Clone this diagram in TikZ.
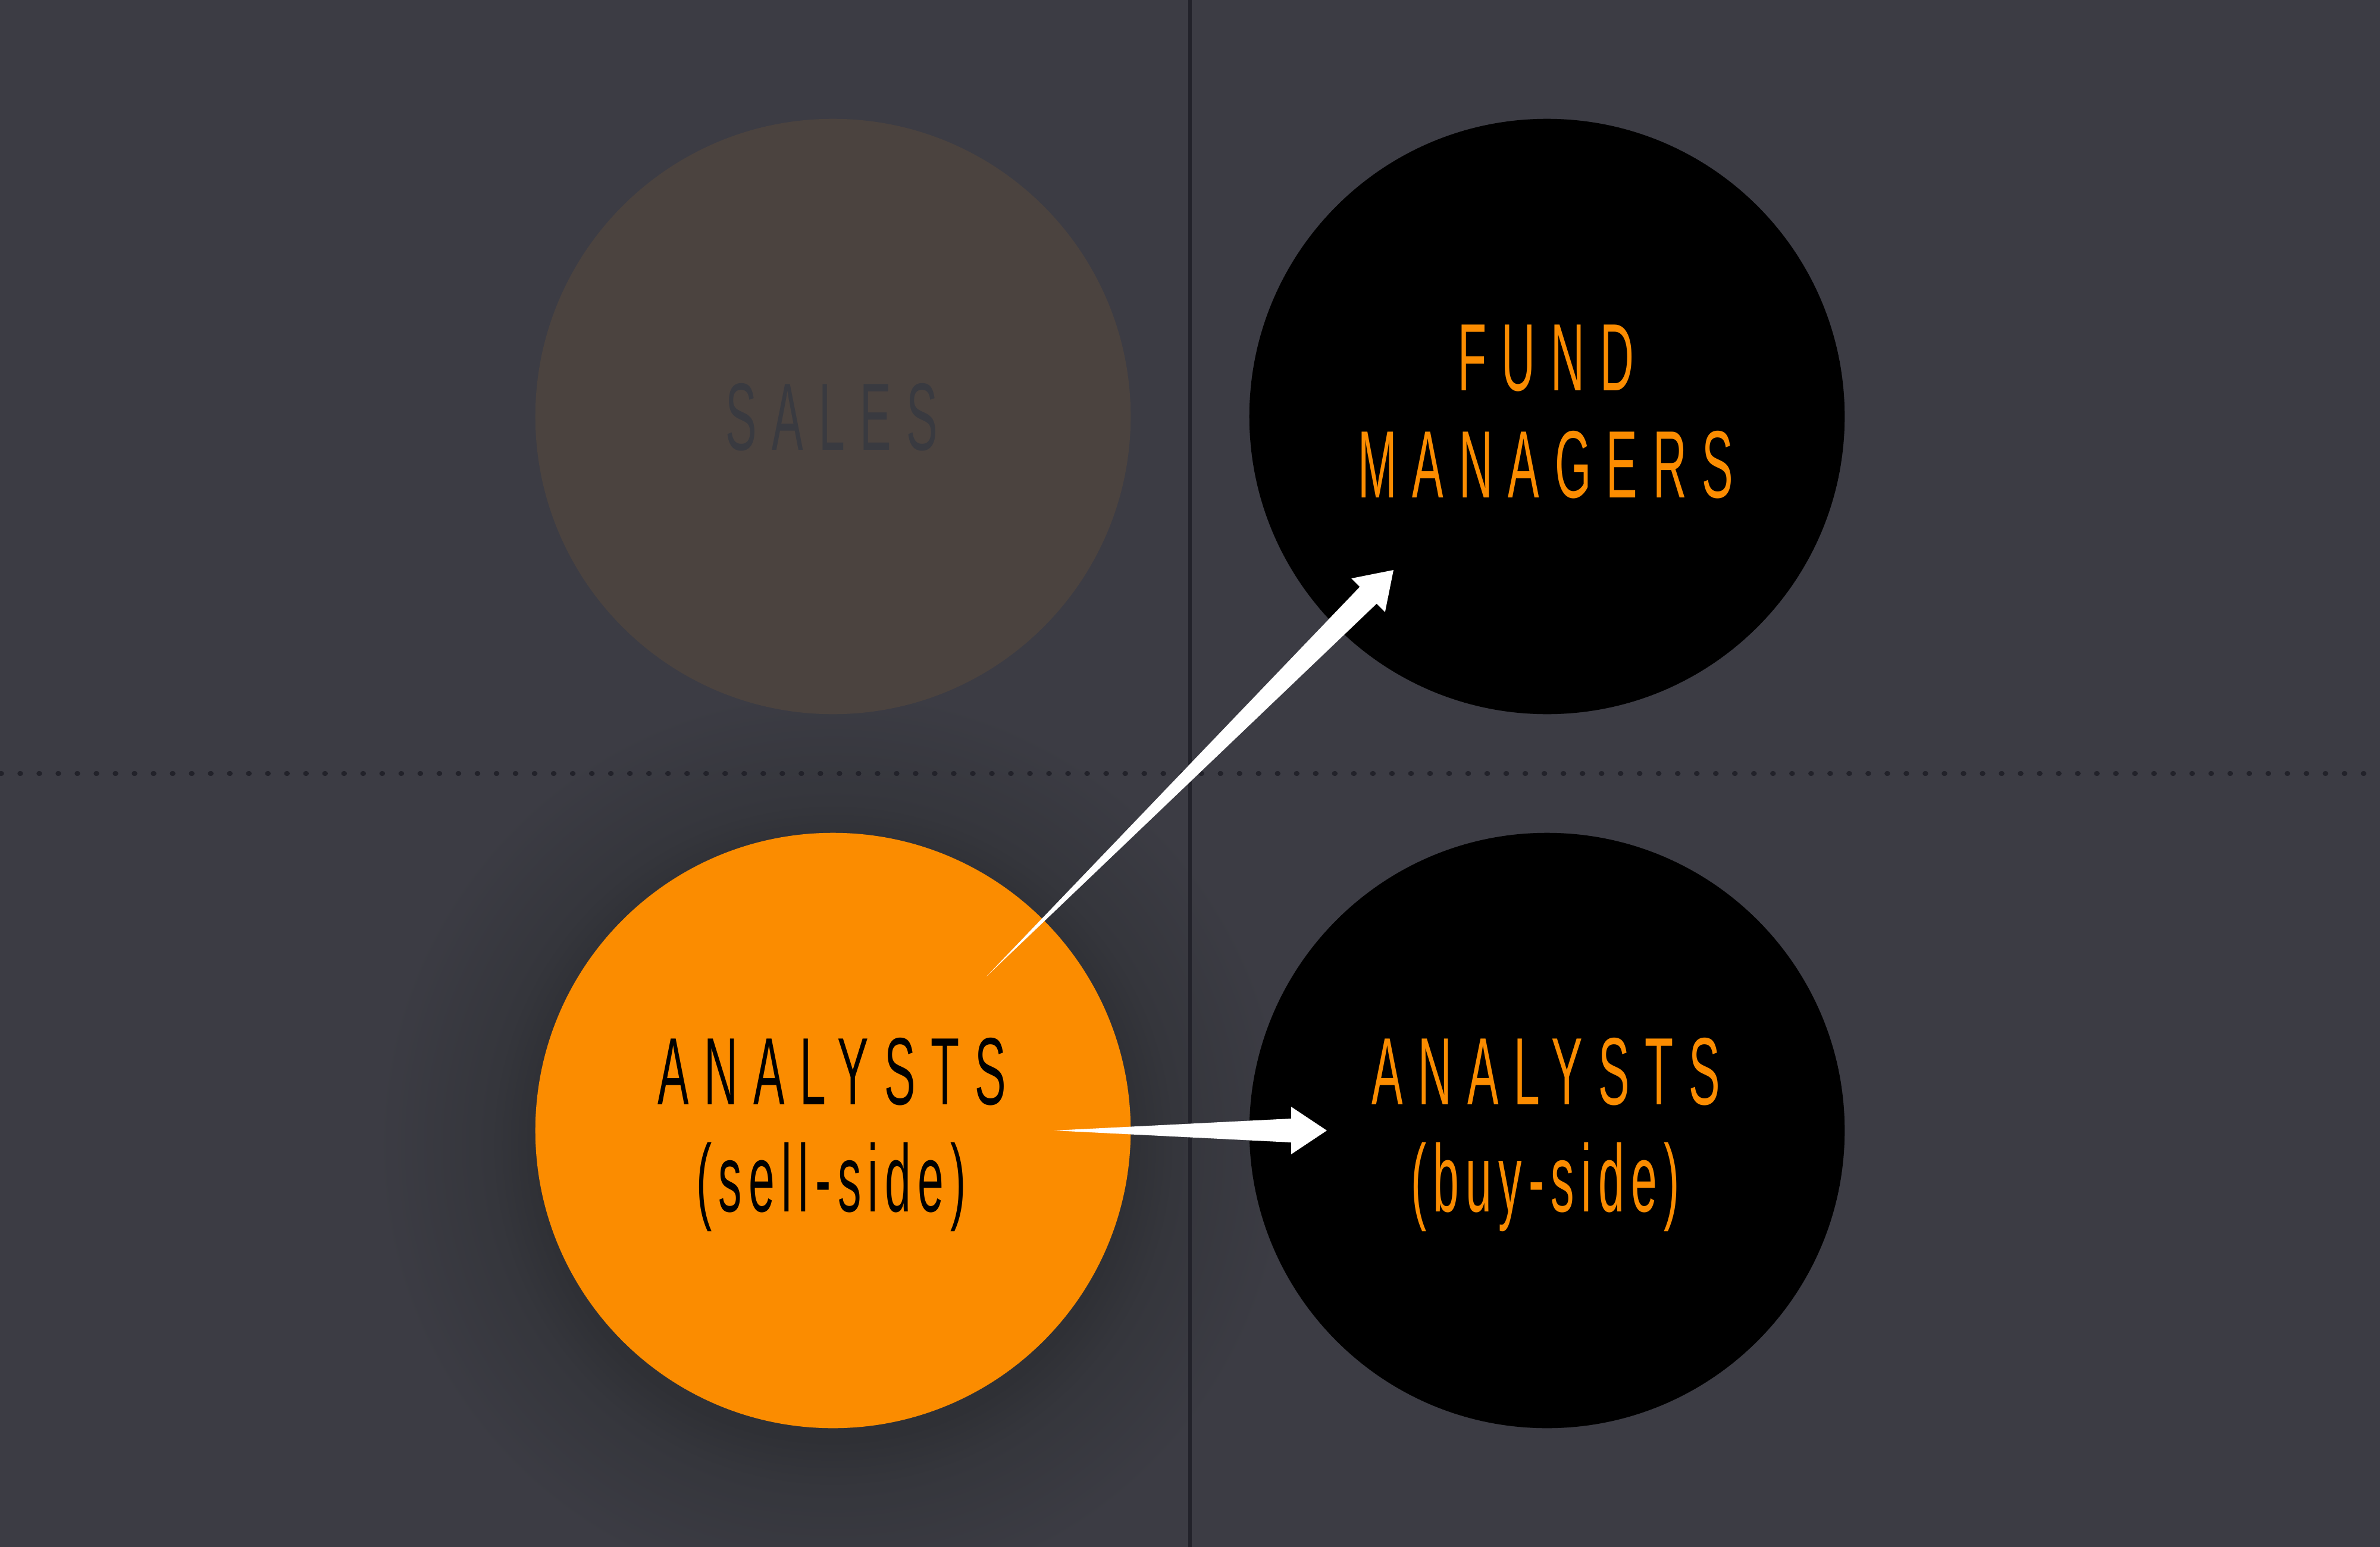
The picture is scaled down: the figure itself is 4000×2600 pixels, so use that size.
\documentclass[tikz,border=0pt]{standalone}
\usepackage{fontspec}
\usetikzlibrary{calc}
\newfontfamily\capsfont[FakeStretch=0.49,LetterSpace=16]{Liberation Sans}
\newfontfamily\lowfont[FakeStretch=0.49,LetterSpace=7]{Liberation Sans}
\definecolor{bgc}{HTML}{3C3C44}
\definecolor{salesfill}{HTML}{4B433F}
\definecolor{salestext}{HTML}{393A40}
\definecolor{rulec}{HTML}{22222A}
\definecolor{orng}{HTML}{FB8C00}
\definecolor{shd}{HTML}{2F3035}
\definecolor{shm}{HTML}{35363C}
\pgfdeclareradialshading{glow}{\pgfpoint{0bp}{0bp}}{color(0bp)=(shd);color(15.5bp)=(shd);color(18bp)=(shm);color(24bp)=(bgc);color(25bp)=(bgc);color(50bp)=(bgc)}
\newcommand{\taperarrow}[2]{%
  \coordinate (tb) at ($(#2)!0.6cm!(#1)$);
  \fill[white] (#1) -- ($(tb)!0.2cm!90:(#2)$) -- ($(tb)!0.4cm!90:(#2)$) -- (#2)
    -- ($(tb)!0.4cm!-90:(#2)$) -- ($(tb)!0.2cm!-90:(#2)$) -- cycle;}
\begin{document}
\begin{tikzpicture}[x=0.01cm,y=-0.01cm,
  disc/.style={circle,minimum size=10cm,inner sep=0pt,draw=none},
  captext/.style={anchor=base,inner sep=0pt,font=\capsfont\fontsize{45.7}{54}\selectfont},
  lowtext/.style={anchor=base,inner sep=0pt,font=\lowfont\fontsize{45.7}{54}\selectfont},
  divider/.style={rulec,line width=0.06cm},
  dotrule/.style={rulec,line width=0.075cm,line cap=round,dash pattern=on 0.02cm off 0.30cm}]
\fill[bgc] (0,0) rectangle (4000,2600);
\useasboundingbox (0,0) rectangle (4000,2600);
\shade[shading=glow] (1400,1925) circle[radius=800];
\coordinate (dl) at (1,1300);
\coordinate (dr) at (4000,1300);
\coordinate (vt) at (2000,0);
\coordinate (vb) at (2000,2600);
\draw[dotrule] (dl) -- (dr);
\draw[divider] (vt) -- (vb);
\node[disc,fill=salesfill] (sales) at (1400,700) {};
\node[disc,fill=black] (fund) at (2600,700) {};
\node[disc,fill=orng] (sell) at (1400,1900) {};
\node[disc,fill=black] (buy) at (2600,1900) {};
\node[captext,text=salestext] (salesT) at ($(sales)+(-2,56)$) {SALES};
\node[captext,text=orng] (fundT1) at ($(fund)+(-2,-44)$) {FUND};
\node[captext,text=orng] (fundT2) at ($(fund)+(-2,136)$) {MANAGERS};
\node[captext,text=black] (sellT1) at ($(sell)+(-2,-44)$) {ANALYSTS};
\node[lowtext,text=black] (sellT2) at ($(sell)+(-3,136)$) {(sell-side)};
\node[captext,text=orng] (buyT1) at ($(buy)+(-2,-44)$) {ANALYSTS};
\node[lowtext,text=orng] (buyT2) at ($(buy)+(-3,136)$) {(buy-side)};
\coordinate (a1t) at ($(sell)+(258,-259)$);
\coordinate (a1h) at ($(fund)+(-258,258)$);
\coordinate (a2t) at ($(sell)+(372,0)$);
\coordinate (a2h) at ($(buy)+(-370,0)$);
\taperarrow{a1t}{a1h}
\taperarrow{a2t}{a2h}
\end{tikzpicture}
\end{document}
